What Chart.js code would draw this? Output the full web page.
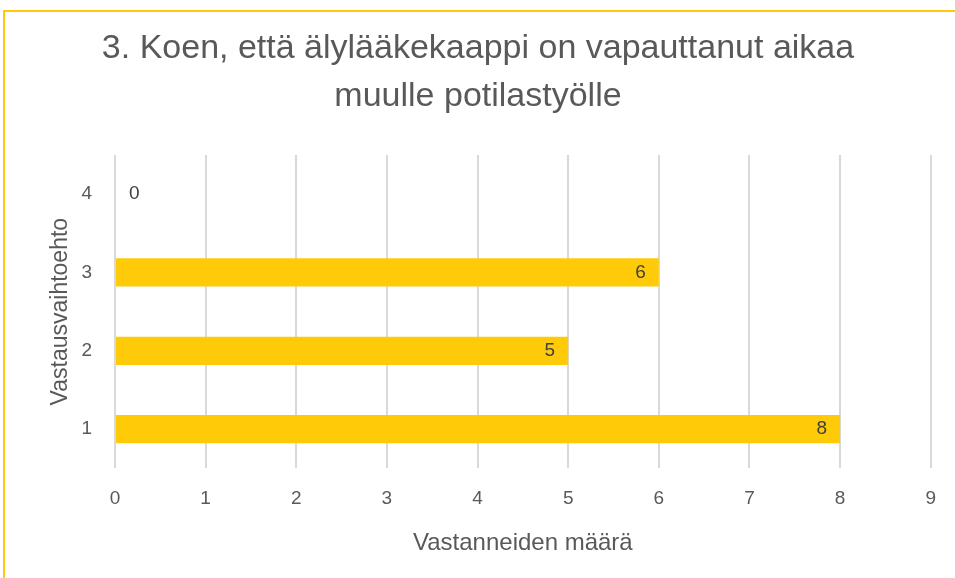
<!DOCTYPE html>
<html>
<head>
<meta charset="utf-8">
<script src="https://cdn.jsdelivr.net/npm/chart.js@4/dist/chart.umd.min.js"></script>
<style>
  html,body{margin:0;padding:0;background:#fff;}
  #wrap{position:relative;width:955px;height:578px;overflow:hidden;}
  #frame{position:absolute;left:3px;top:10px;width:1000px;height:700px;border:2px solid #FFC90E;box-sizing:border-box;}
  canvas{position:absolute;left:0;top:0;}
</style>
</head>
<body>
<div id="wrap">
  <div id="frame"></div>
  <canvas id="c" width="955" height="578"></canvas>
</div>
<script>
const categories = ['1', '2', '3', '4'];
const values = [8, 5, 6, 0];
const xTicks = [0, 1, 2, 3, 4, 5, 6, 7, 8, 9];
const titleLines = ['3. Koen, että älylääkekaappi on vapauttanut aikaa', 'muulle potilastyölle'];
const xTitle = 'Vastanneiden määrä';
const yTitle = 'Vastausvaihtoehto';

const FONT = '"Liberation Sans", "DejaVu Sans", sans-serif';

const labelPlugin = {
  id: 'barLabels',
  afterDatasetsDraw(chart) {
    const ctx = chart.ctx;
    const meta = chart.getDatasetMeta(0);
    ctx.save();
    ctx.font = '19px ' + FONT;
    ctx.fillStyle = '#404040';
    ctx.textBaseline = 'middle';
    meta.data.forEach((el, i) => {
      const v = values[i];
      if (v === 0) {
        ctx.textAlign = 'left';
        ctx.fillText(String(v), el.x + 14, el.y);
      } else {
        ctx.textAlign = 'right';
        ctx.fillText(String(v), el.x - 13, el.y);
      }
    });
    ctx.restore();
  }
};

new Chart(document.getElementById('c'), {
  type: 'bar',
  data: {
    labels: categories,
    datasets: [{
      data: values,
      backgroundColor: '#FFCA08',
      borderWidth: 0,
      barPercentage: 0.36,
      categoryPercentage: 1
    }]
  },
  options: {
    indexAxis: 'y',
    responsive: false,
    animation: false,
    layout: { padding: { left: 23, right: 22, top: 0, bottom: 17 } },
    plugins: {
      legend: { display: false },
      tooltip: { enabled: false },
      title: {
        display: true,
        text: titleLines,
        color: '#595959',
        font: { family: FONT, size: 34, weight: 'normal', lineHeight: 1.41 },
        padding: { top: 25, bottom: 34 }
      }
    },
    scales: {
      x: {
        min: 0,
        max: 9,
        afterBuildTicks(scale) { scale.ticks = xTicks.map(v => ({ value: v })); },
        ticks: { color: '#595959', font: { family: FONT, size: 19 }, padding: 19, maxRotation: 0 },
        grid: { color: '#D9D9D9', lineWidth: 2, drawTicks: false },
        border: { display: false },
        title: {
          display: true, text: xTitle, color: '#595959',
          font: { family: FONT, size: 24 }, padding: { top: 0, bottom: 3 }
        }
      },
      y: {
        reverse: true,
        afterFit(scale) { scale.width = 92; },
        ticks: { color: '#595959', font: { family: FONT, size: 19 }, padding: 23 },
        grid: { display: false, drawTicks: false },
        border: { display: false },
        title: {
          display: true, text: yTitle, color: '#595959',
          font: { family: FONT, size: 23 }, padding: { top: 24, bottom: 0 }
        }
      }
    }
  },
  plugins: [labelPlugin]
});
</script>
</body>
</html>
